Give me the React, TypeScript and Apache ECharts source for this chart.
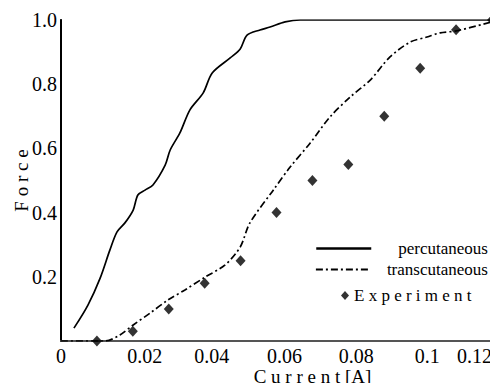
import React, { useEffect, useRef } from "react";
import * as echarts from "echarts";

const percX = [0.0036, 0.0075, 0.0109, 0.0136, 0.0156, 0.0178, 0.0201, 0.0214, 0.0234, 0.0256, 0.029, 0.0304, 0.0331, 0.0359, 0.0396, 0.0421, 0.0471, 0.0499, 0.0518, 0.0554, 0.0582, 0.0624, 0.0666, 0.12];
const percY = [0.04, 0.112, 0.196, 0.283, 0.34, 0.368, 0.408, 0.455, 0.47, 0.486, 0.548, 0.595, 0.648, 0.72, 0.773, 0.835, 0.882, 0.91, 0.953, 0.969, 0.978, 0.994, 1.0, 1.0];

const transX = [0, 0.0123, 0.0164, 0.0201, 0.0248, 0.0298, 0.0345, 0.0401, 0.0457, 0.0499, 0.0526, 0.0591, 0.0638, 0.0694, 0.0749, 0.0805, 0.0861, 0.0916, 0.0972, 0.1019, 0.1056, 0.11, 0.12];
const transY = [0, 0, 0.019, 0.05, 0.087, 0.128, 0.159, 0.199, 0.237, 0.293, 0.368, 0.47, 0.542, 0.617, 0.698, 0.76, 0.813, 0.885, 0.931, 0.947, 0.96, 0.966, 0.994];

const expX = [0.01, 0.02, 0.03, 0.04, 0.05, 0.06, 0.07, 0.08, 0.09, 0.1, 0.11, 0.12];
const expY = [0, 0.03, 0.1, 0.18, 0.25, 0.4, 0.5, 0.55, 0.7, 0.85, 0.97, 1.0];

const xTicks = [0, 0.02, 0.04, 0.06, 0.08, 0.1, 0.12];
const xTickLabels = ["0", "0.02", "0.04", "0.06", "0.08", "0.1", "0.12"];
const yTicks = [0, 0.2, 0.4, 0.6, 0.8, 1.0];
const yTickLabels = ["", "0.2", "0.4", "0.6", "0.8", "1.0"];

const seriesNames = ["percutaneous", "transcutaneous", "Experiment"];

const zip = (xs: number[], ys: number[]) => xs.map((x, i) => [x, ys[i]]);
const SERIF = "Liberation Serif";

function labelFor(ticks: number[], labels: string[], v: number) {
  const i = ticks.findIndex((t) => Math.abs(t - v) < 1e-9);
  return i >= 0 ? labels[i] : "";
}

export default function App() {
  const ref = useRef<HTMLDivElement>(null);
  useEffect(() => {
    if (!ref.current) return;
    const chart = echarts.init(ref.current, undefined, { renderer: "svg" });
    const shifts: Record<string, number> = { "0.02": 24, "0.04": 14, "0.06": 16, "0.08": 16, "0.1": 14 };
    const rich: Record<string, any> = {};
    Object.keys(shifts).forEach((k, i) => {
      rich["s" + i] = { padding: [0, 0, 0, shifts[k]], fontFamily: SERIF, fontSize: 20, color: "#000" };
    });
    chart.setOption({
      animation: false,
      backgroundColor: "#fff",
      textStyle: { fontFamily: SERIF },
      grid: { left: 61, right: 6, top: 20, bottom: 50, containLabel: false, outerBoundsMode: "none" },
      xAxis: [
        {
          type: "value",
          min: 0,
          max: 0.12,
          interval: 0.02,
          name: "C u r r e n t [A]",
          nameLocation: "middle",
          nameGap: 26,
          nameMoveOverlap: false,
          nameTextStyle: { fontFamily: SERIF, fontSize: 19, color: "#000", padding: [0, 0, 0, 72] },
          axisLine: { show: true, lineStyle: { color: "#000", width: 2 } },
          axisTick: { show: false },
          splitLine: { show: false },
          axisLabel: {
            margin: 5,
            fontFamily: SERIF,
            fontSize: 20,
            color: "#000",
            alignMaxLabel: "right",
            rich,
            formatter: (v: number) => {
              const s = labelFor(xTicks, xTickLabels, v);
              const keys = Object.keys(shifts);
              const i = keys.indexOf(s);
              return i >= 0 ? `{s${i}|${s}}` : s;
            },
          },
        },
        {
          type: "value",
          position: "top",
          min: 0,
          max: 0.12,
          axisLine: { show: true, lineStyle: { color: "#555", width: 2 } },
          axisTick: { show: false },
          axisLabel: { show: false },
          splitLine: { show: false },
        },
      ],
      yAxis: [
        {
          type: "value",
          min: 0,
          max: 1,
          interval: 0.2,
          name: "F o r c e",
          nameLocation: "middle",
          nameGap: 30,
          nameMoveOverlap: false,
          nameTextStyle: { fontFamily: SERIF, fontSize: 19, color: "#000" },
          axisLine: { show: true, lineStyle: { color: "#000", width: 2 } },
          axisTick: { show: false },
          splitLine: { show: false },
          axisLabel: {
            margin: 4,
            fontFamily: SERIF,
            fontSize: 20,
            color: "#000",
            formatter: (v: number) => labelFor(yTicks, yTickLabels, v),
          },
        },
        {
          type: "value",
          position: "right",
          min: 0,
          max: 1,
          axisLine: { show: true, lineStyle: { color: "#000", width: 1.5 } },
          axisTick: { show: false },
          axisLabel: { show: false },
          splitLine: { show: false },
        },
      ],
      legend: [
        {
          data: [seriesNames[0]],
          left: 315,
          top: 240,
          padding: 0,
          itemWidth: 55,
          itemHeight: 14,
          selectedMode: false,
          itemStyle: { opacity: 0 },
          lineStyle: { width: 2.5 },
          textStyle: { fontFamily: SERIF, fontSize: 17, color: "#000", padding: [0, 0, 0, 22] },
        },
        {
          data: [seriesNames[1]],
          left: 315,
          top: 261,
          padding: 0,
          itemWidth: 55,
          itemHeight: 14,
          selectedMode: false,
          itemStyle: { opacity: 0 },
          lineStyle: { width: 1.8 },
          textStyle: { fontFamily: SERIF, fontSize: 17, color: "#000", padding: [0, 0, 0, 11] },
        },
        {
          data: [seriesNames[2]],
          left: 341,
          top: 287,
          padding: 0,
          itemWidth: 8,
          itemHeight: 9,
          icon: "diamond",
          selectedMode: false,
          formatter: (n: string) => n.split("").join(" "),
          textStyle: { fontFamily: SERIF, fontSize: 17, color: "#000" },
        },
      ],
      series: [
        {
          name: seriesNames[0],
          type: "line",
          data: zip(percX, percY),
          showSymbol: false,
          symbol: "none",
          smooth: 0.3,
          lineStyle: { color: "#000", width: 1.7 },
          itemStyle: { color: "#000" },
        },
        {
          name: seriesNames[1],
          type: "line",
          data: zip(transX, transY),
          showSymbol: false,
          symbol: "none",
          smooth: 0.3,
          lineStyle: { color: "#000", width: 1.7, type: [7, 3, 2, 3] },
          itemStyle: { color: "#000" },
        },
        {
          name: seriesNames[2],
          type: "scatter",
          data: zip(expX, expY),
          symbol: "diamond",
          symbolSize: [10, 11],
          clip: false,
          itemStyle: { color: "#000" },
        },
      ],
    });
    return () => chart.dispose();
  }, []);
  return <div ref={ref} style={{ width: 498, height: 391, margin: -8 }} />;
}
